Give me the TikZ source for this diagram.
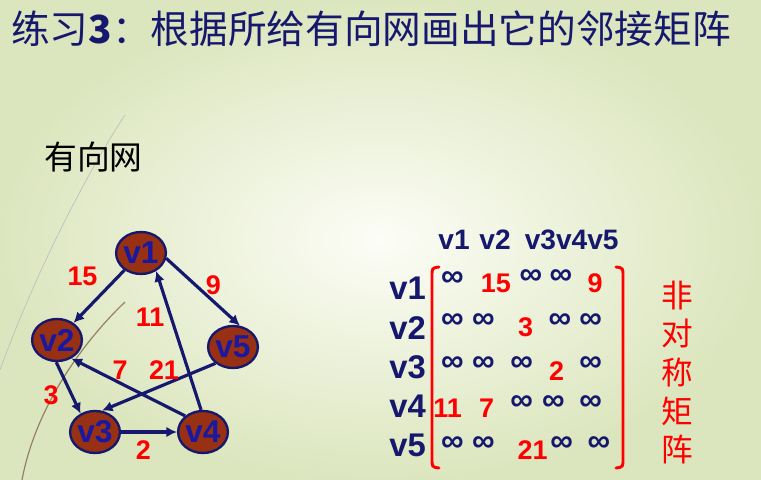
\documentclass[tikz,border=0pt]{standalone}
\usepackage{fontspec}
\setmainfont{Liberation Sans}
\newfontfamily\cjk{Noto Sans CJK SC}
\usetikzlibrary{shapes.geometric,arrows.meta}

\definecolor{navy}{RGB}{22,24,110}
\definecolor{vblue}{RGB}{24,24,160}
\definecolor{brick}{RGB}{152,48,20}
\definecolor{bgout}{RGB}{220,230,190}
\definecolor{bgin}{RGB}{252,253,246}

\begin{document}
\begin{tikzpicture}[
				x=0.03cm, y=-0.03cm,
				vert/.style={
					ellipse, draw=navy, line width=2pt, fill=brick,
					minimum width=1.44cm, minimum height=1.26cm, inner sep=0pt,
					text=vblue, font=\bfseries\fontsize{27}{27}\selectfont
				},
				link/.style={draw=navy, line width=2.7pt, -{Latex[length=9pt,width=9pt]}},
				wt/.style={text=red, inner sep=0pt, font=\bfseries\fontsize{23}{23}\selectfont},
				inf/.style={text=navy, inner sep=0pt, font=\bfseries\fontsize{27}{27}\selectfont},
				lab/.style={text=navy, inner sep=0pt, font=\bfseries\fontsize{24}{24}\selectfont}
				]
				% Background
				\useasboundingbox (0,0) rectangle (761,480);
				\shade[inner color=bgin, outer color=bgout] (0,0) rectangle (761,480);
				\draw[black!25, line width=0.6pt] (125,115) .. controls (95,160) and (40,260) .. (0,370);
				\draw[black!45!brown!70, line width=1pt] (125,302) .. controls (80,345) and (35,410) .. (22,480);
				
				% Title
				\node[anchor=west, inner sep=0pt, text=navy, font=\cjk\fontsize{33}{33}\selectfont]
					(title) at (11,28.5) {练习\textbf{3}：根据所给有向网画出它的邻接矩阵};
				\node[anchor=west, inner sep=0pt, font=\cjk\fontsize{28}{28}\selectfont]
					(net) at (44,157.5) {有向网};
				
				% Vertices
				\node[vert] (v1) at (141,253) {v1};
				\node[vert] (v2) at (57,340) {v2};
				\node[vert] (v5) at (233,347) {v5};
				\node[vert] (v3) at (95,432) {v3};
				\node[vert] (v4) at (203,432) {v4};
				
				% Arcs
				\draw[link] (v1) -- (v2);
				\draw[link] (v1.-12) -- (v5.72);
				\draw[link] (v4.95) -- (v1.-50);
				\draw[link] (v2.-92) -- (v3.128);
				\draw[link] (v4.138) -- (v2.-52);
				\draw[link] (v5.-137) -- (v3.72);
				\draw[link] (v3) -- (v4);
				
				% Weights
				\node[wt] (w12) at (82.5,276.7) {15};
				\node[wt] (w15) at (213.3,285) {9};
				\node[wt] (w41) at (150,317.5) {11};
				\node[wt] (w42) at (120,370) {7};
				\node[wt] (w53) at (164,370) {21};
				\node[wt] (w23) at (51,395) {3};
				\node[wt] (w34) at (143.3,450) {2};
				
				% Matrix labels
				\node[lab] (c1) at (454,240) {v1};
				\node[lab] (c2) at (495,240) {v2};
				\node[lab] (c3) at (571.7,240) {v3v4v5};
				\foreach \y [count=\i] in {288,328,367,406,445}
				\node[lab, font=\bfseries\fontsize{28}{28}\selectfont] (r\i) at (407.5,\y) {v\i};
				
				% Brackets
				\draw[red, line width=2.5pt, line cap=round] (439,267) .. controls (432,268) .. (432,276)
					-- (432,459) .. controls (432,467) .. (439,468);
				\draw[red, line width=2.5pt, line cap=round] (616,267) .. controls (623,268) .. (623,276)
					-- (623,459) .. controls (623,467) .. (616,468);
				
				% Entries
				\foreach \x/\y [count=\i] in {452.5/279, 530.8/277, 560.8/277,
					452.5/321, 483.3/321, 560/321, 590.7/321,
					452.5/364, 483.3/364, 521.7/364, 590.7/364,
					521.7/403, 553.3/403, 590.7/403,
					452.5/444, 483.3/444, 561.7/444, 599/444}
				\node[inf] (inf\i) at (\x,\y) {∞};
				\foreach \x/\y/\w [count=\i] in {495.8/283/15, 595/283/9, 525.5/327/3,
					556.7/371/2, 447.5/408/11, 486.7/408/7, 532.5/450/21}
				\node[wt] (e\i) at (\x,\y) {\w};
				
				% Note
				\node[text=red, align=center, inner sep=0pt, font=\cjk\fontsize{27}{33}\selectfont]
					(note) at (677,372.5) {非\\对\\称\\矩\\阵};
			\end{tikzpicture}
\end{document}
